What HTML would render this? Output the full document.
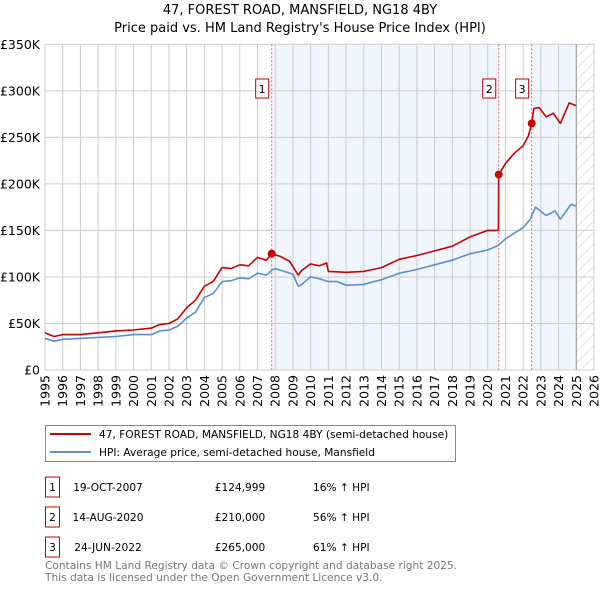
<!DOCTYPE html>
<html><head><meta charset="utf-8">
<style>
body{margin:0;background:#fff;font-family:"DejaVu Sans","Liberation Sans",sans-serif;}
svg text{font-family:"DejaVu Sans","Liberation Sans",sans-serif;}
</style></head>
<body>
<svg id="chart" width="600" height="590" xmlns="http://www.w3.org/2000/svg">
<defs>
<pattern id="hatch" patternUnits="userSpaceOnUse" width="8" height="8" patternTransform="rotate(45)">
<line x1="0" y1="0" x2="0" y2="8" stroke="#ccc" stroke-width="1"/>
</pattern>
</defs>
<text x="300" y="14" text-anchor="middle" font-size="13">47, FOREST ROAD, MANSFIELD, NG18 4BY</text>
<text x="300" y="32" text-anchor="middle" font-size="13">Price paid vs. HM Land Registry's House Price Index (HPI)</text>
<g id="plot"></g>
<g>
<rect x="45.5" y="425.5" width="410" height="36" fill="#fff" stroke="#888"/>
<line x1="50" y1="434" x2="91" y2="434" stroke="#cc0000" stroke-width="2"/>
<text x="99" y="438" font-size="10.6">47, FOREST ROAD, MANSFIELD, NG18 4BY (semi-detached house)</text>
<line x1="50" y1="452" x2="91" y2="452" stroke="#5b8fd0" stroke-width="2"/>
<text x="99" y="456" font-size="10.6">HPI: Average price, semi-detached house, Mansfield</text>
</g>
<g id="table" font-size="10.6"></g>
<text x="45" y="569" font-size="10.6" fill="#777">Contains HM Land Registry data © Crown copyright and database right 2025.</text>
<text x="45" y="581" font-size="10.6" fill="#777">This data is licensed under the Open Government Licence v3.0.</text>
</svg>
<script>
const yearTicks=[1995,1996,1997,1998,1999,2000,2001,2002,2003,2004,2005,2006,2007,2008,2009,2010,2011,2012,2013,2014,2015,2016,2017,2018,2019,2020,2021,2022,2023,2024,2025,2026];
const valueTicks=[0,50000,100000,150000,200000,250000,300000,350000];
const valueTickLabels=["£0","£50K","£100K","£150K","£200K","£250K","£300K","£350K"];
const hpiYears=[1995,1995.5,1996,1997,1998,1999,2000,2001,2001.5,2002,2002.5,2003,2003.5,2004,2004.5,2005,2005.5,2006,2006.5,2007,2007.5,2007.8,2008,2008.5,2009,2009.3,2009.5,2010,2010.5,2011,2011.5,2012,2013,2014,2015,2016,2017,2018,2019,2020,2020.6,2021,2022,2022.4,2022.7,2023.3,2023.8,2024.1,2024.7,2025];
const hpiValues=[34000,31000,33000,34000,35000,36000,38000,38000,42000,43000,47000,56000,62000,78000,82000,95000,96000,99000,98000,104000,102000,107000,109000,106000,103000,90000,92000,100000,98000,95000,95000,91000,92000,97000,104000,108000,113000,118000,125000,129000,134000,141000,153000,162000,175000,166000,171000,162000,178000,176000];
const priceYears=[1995,1995.5,1996,1997,1998,1999,2000,2001,2001.5,2002,2002.5,2003,2003.5,2004,2004.5,2005,2005.5,2006,2006.5,2007,2007.5,2007.8,2008.3,2008.8,2009.3,2009.5,2010,2010.5,2010.9,2011,2012,2013,2014,2015,2016,2017,2018,2019,2020,2020.6,2020.62,2021,2021.5,2022,2022.3,2022.48,2022.6,2022.9,2023.3,2023.7,2024.1,2024.6,2025];
const priceValues=[40000,36000,38000,38000,40000,42000,43000,45000,49000,50000,55000,67000,75000,90000,95000,110000,109000,113000,112000,121000,118000,125000,122000,117000,102000,107000,114000,112000,115000,106000,105000,106000,110000,119000,123000,128000,133000,143000,150000,150000,210000,222000,233000,241000,252000,265000,281000,282000,272000,276000,265000,287000,284000];
const saleLabels=["1","2","3"];
const saleYears=[2007.8,2020.62,2022.48];
const saleValues=[124999,210000,265000];
const saleDates=["19-OCT-2007","14-AUG-2020","24-JUN-2022"];
const salePrices=["£124,999","£210,000","£265,000"];
const saleHpi=["16% ↑ HPI","56% ↑ HPI","61% ↑ HPI"];

const NS="http://www.w3.org/2000/svg";
const X0=45,X1=594,Y0=370,Y1=44.3;
const x=y=>X0+(y-1995)/(2026-1995)*(X1-X0);
const yv=v=>Y0-v/350000*(Y0-Y1);
const plot=document.getElementById('plot');
function mk(tag,attrs,parent){const e=document.createElementNS(NS,tag);for(const k in attrs)e.setAttribute(k,attrs[k]);(parent||plot).appendChild(e);return e;}

let s=mk('rect',{x:x(saleYears[0]),y:Y1,width:x(saleYears[1])-x(saleYears[0]),height:Y0-Y1,fill:'#eef3fc',opacity:0.8});


s=mk('rect',{x:x(saleYears[2]),y:Y1,width:x(2025)-x(saleYears[2]),height:Y0-Y1,fill:'#eef3fc',opacity:0.8});


s=mk('rect',{x:x(2025),y:Y1,width:X1-x(2025),height:Y0-Y1,fill:'url(#hatch)'});



yearTicks.forEach(t=>{
 const l=mk('line',{x1:x(t),x2:x(t),y1:Y1,y2:Y0,stroke:'#ccc'});
 
 
 const tx=mk('text',{x:0,y:0,'font-size':12.5,'text-anchor':'end',transform:`translate(${x(t)+4.5},${Y0+5}) rotate(-90)`});
 tx.textContent=t;
 
 
});
valueTicks.forEach((v,i)=>{
 const l=mk('line',{x1:X0,x2:X1,y1:yv(v),y2:yv(v),stroke:'#ccc'});
 
 
 const tx=mk('text',{x:X0-5,y:yv(v)+4.5,'font-size':12.5,'text-anchor':'end'});
 tx.textContent=valueTickLabels[i];
 
 
});
let b=mk('line',{x1:x(2025),x2:x(2025),y1:Y1,y2:Y0,stroke:'#999'});



saleYears.forEach((sy,i)=>{
 const l=mk('line',{x1:x(sy),x2:x(sy),y1:Y1,y2:Y0,stroke:'#e66',"stroke-dasharray":'2,2'});
 
 
});

function path(xs,vs,color,name){
 const d=xs.map((t,i)=>(i?'L':'M')+x(t).toFixed(1)+','+yv(vs[i]).toFixed(1)).join('');
 const p=mk('path',{d:d,fill:'none',stroke:color,'stroke-width':1.6,'stroke-linejoin':'round'});
 
 
}
path(hpiYears,hpiValues,'#5b8fd0','hpi-line');
path(priceYears,priceValues,'#cc0000','price-paid-line');

saleYears.forEach((sy,i)=>{
 const c=mk('circle',{cx:x(sy),cy:yv(saleValues[i]),r:4,fill:'#cc0000'});
 
 
 const g=mk('g',{});
 
 
 mk('rect',{x:x(sy)-16,y:79,width:13,height:19,fill:'#fff',stroke:'#b00'},g);
 const t=mk('text',{x:x(sy)-9.5,y:93,'font-size':11,'text-anchor':'middle'},g);
 t.textContent=saleLabels[i];
});

const tb=document.getElementById('table');
saleLabels.forEach((lab,i)=>{
 const ry=487+i*30;
 const g=mk('g',{},tb);
 
 
 mk('rect',{x:45.5,y:ry-10,width:14,height:20,fill:'#fff',stroke:'#b00'},g);
 const cols=[[52.5,lab,'middle'],[108,saleDates[i],'middle'],[240,salePrices[i],'middle'],[313,saleHpi[i],'start']];
 cols.forEach(c=>{const t=mk('text',{x:c[0],y:ry+4,'text-anchor':c[2]},g);t.textContent=c[1];});
});
</script>
</body></html>
